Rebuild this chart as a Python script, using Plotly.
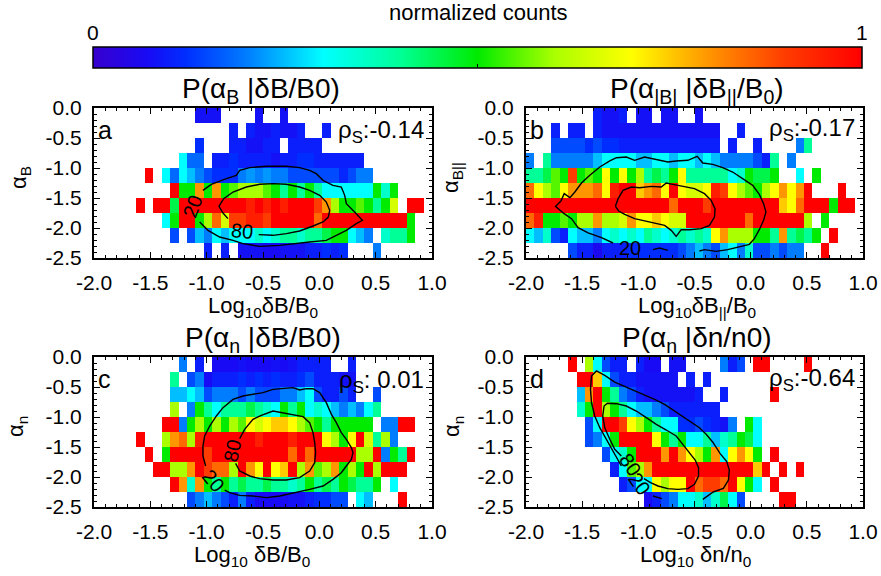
import plotly.graph_objects as go

_ = None
W, H = 881, 576

# ---------------- data: normalized counts (in tenths), 10 alpha rows (0 -> -2.5) x 40 log10 columns (-2 -> 1)
A_ROWS = [
    [_,_,_,_,_,_,_,_,_,_, _,_,0.8,0.8,0.8,_,_,_,_,0.8, _,_,0.8,_,_,_,_,_,_,_, _,_,_,_,_,_,_,_,_,_],
    [_,_,_,_,_,_,_,_,_,_, _,_,_,_,_,_,1,_,1,0.8, 0.8,1,0.8,0.8,1,_,_,1,_,_, _,_,_,_,_,_,_,_,_,_],
    [_,_,_,_,_,_,_,_,_,_, _,_,1.2,_,_,_,1,1,0.8,0.8, 1,1,_,1,1,1,1,_,_,_, _,_,_,_,_,_,_,_,_,_],
    [_,_,_,_,_,_,_,_,_,_, 3,1.8,1.8,_,1,1,1.2,1,1,1, 1,0.8,1,1,1.2,1.2,1,1,1,1, 1,1,_,_,_,_,_,_,_,_],
    [_,_,_,_,_,_,10,_,3,1.8, 3,2.5,2,1.5,1.2,1.2,1.2,2,2.2,2, 2.2,2,2,1.5,1.5,1.5,1.5,1.5,1.5,1.1, 1.5,2,2,_,_,_,_,_,_,_],
    [_,_,_,_,_,_,_,_,_,10, 5,5,8,5,8,5,5.5,6,6,6, 5.5,5,4,5,4,5,4,3,3,3, 3,3,3,5,3.5,5,_,_,_,_],
    [_,_,_,_,_,10,_,10,10,4.5, 10,10,10,10,10,10,10,10,9.5,10, 9.5,10,9.5,10,10,10,9,8,6,5, 5,5.5,5,4,5,6.5,_,10,10,_],
    [_,_,_,_,_,_,_,_,3,5, 10,10,5,6,8.5,6.5,9,9,9.5,9.5, 9,10,10,10,10,10,8.5,10,10,10, 10,10,10,10,10,10,10,5,_,_],
    [_,_,_,_,_,_,_,_,_,1.5, _,1.5,2.5,2,3,2.5,3,3,3,3.5, 3,3.5,4,4,3.5,4,4,4.5,5,5, 3,2.5,2,_,3.5,4,4,5,_,_],
    [_,_,_,_,_,_,_,_,_,_, _,_,_,1,_,1,_,0.8,0.8,0.8, 0.7,0.7,0.8,0.8,0.8,1,1,1.2,1,1.2, _,_,_,2,_,_,_,_,_,_],
]
B_ROWS = [
    [_,_,_,_,_,_,_,_,1,0.8, 0.8,1,_,0.8,0.8,_,0.8,0.8,_,_, 0.8,_,_,_,_,_,_,_,_,_, _,_,_,_,_,_,_,_,_,_],
    [_,_,_,1,_,1,1,_,1,0.8, 0.8,0.8,0.8,0.8,0.8,0.8,0.8,0.8,0.8,0.8, 0.8,0.8,0.8,_,_,1,_,_,_,_, _,_,_,_,_,_,_,_,_,_],
    [_,_,_,1.5,1.5,1.5,1.5,1.2,1.5,1.2, 1.2,1,1,1,1,1,1,1,1,1, 1,1,1,_,1,_,_,1,_,_, _,_,2,4,_,_,_,_,_,_],
    [2,_,4,2,2,2,2,2,2.5,3, 3,3,3,2.5,2.5,3,3,2.5,3,3, 2.5,3,2.5,2,2,2,2,1.5,1,4, _,2,_,_,_,_,_,_,_,_],
    [4,4,4.5,5.5,5,9,5,5.5,5,7, 5,7,5,6,4,4.5,4,5,7,4, 4,4,4,4,3,3.5,5,4.5,4.5,5, _,_,3,_,5,_,_,_,_,_],
    [8.5,7,6,5.5,7,8,8,8,8.5,7, 9.5,10,10,7.5,8,8.5,7,10,7,6.5, 6.5,7,9.5,9,7,6,5.5,5,6,7, 8,7,8,10,_,_,_,10,_,_],
    [10,10,10,10,10,10,10,10,10,10, 10,10,10,10,10,10,10,8.5,10,10, 10,9,10,10,10,10,10,10,10,10, 7.5,7,8.5,10,10,10,5,10,10,_],
    [8.5,9.5,5,5,5.5,5,6,6,8,6, 6,6.5,8,7,7,7.5,7,6.5,6.5,10, 10,10,10,10,10,10,8.5,10,10,10, 10,10,10,6,_,5,_,_,_,_],
    [3,2.5,3.5,1.5,1,3,2.5,2.5,2,3, 3.5,3,3.5,3,4,3.5,3,3.5,4,3.5, 4,3.5,7,8,6,6,6,5,5,4, 8,4,4.5,4,5,_,10,_,_,_],
    [_,_,_,_,_,1.5,1,1,0.6,1, 1,1,1.2,1.2,1.2,1.2,1.2,1.2,1.5,2, 2.5,2,1.5,2.5,3,2,3.5,1.5,1.5,2, 1.5,2,2,_,_,10,_,_,_,_],
]
C_ROWS = [
    [_,_,_,_,_,_,_,_,_,_, 2,_,1,_,0.7,0.7,0.7,0.8,0.7,0.7, 0.7,0.8,0.7,0.8,1,1,1,1,_,_, 1,_,_,_,_,_,_,_,_,_],
    [_,_,_,_,_,_,_,_,_,4, _,1.5,2,0.7,1,1,1,1.2,1,1.2, 1,1.2,1,1,1.2,1.5,1,1,1,0.8, 0.8,_,_,_,_,_,_,_,_,_],
    [_,_,_,_,_,_,_,_,_,2.5, 2.5,3,2.5,1.5,2,2,2,1.5,2,1.5, 1.5,1.5,2,2,2.5,3,1.5,1,1,1.5, 1,_,_,1.5,_,_,_,_,_,_],
    [_,_,_,_,_,_,_,_,_,6, _,2,5,4,3,4,4,4,4.5,4, 3.5,3,5,4,5,3,3.5,3,2.5,2, 2.5,2,3,4,_,_,_,_,_,_],
    [_,_,_,_,_,_,_,_,10,10, 2,5,6,5,6,5,6,5.5,7,6.5, 7,7.5,7.5,7,6,5.5,5,4,5,5, 5,5,5,_,2,2,10,10,_,_],
    [_,_,_,_,_,10,_,_,6,8, 8.5,6,9.5,10,10,10,10,10,10,9.5, 10,10,10,9.5,10,10,10,7,6,5, 7,10,6.5,4,6,2,_,_,_,_],
    [_,_,_,_,_,_,10,_,5,10, 10,10,10,9,10,10,10,10,10,10, 10,10,10,8.5,10,8.5,10,10,10,10, 10,6,6,10,2,5,4,10,_,_],
    [_,_,_,_,_,_,_,10,10,6, 6,8,10,9,8.5,8.5,6,10,8,7, 10,7,7.5,10,6,8,5.5,6,8,5, 6,5,10,6,10,10,10,_,_,_],
    [_,_,_,_,_,_,_,_,_,10, 8,3.5,8,5,4,5,4,4.5,4,4, 4.5,4,4,3.5,4,5,4,4.5,4,5, 4.5,4,4,5,_,3,_,_,_,_],
    [_,_,_,_,_,_,_,_,_,_, _,1.5,2,2.5,2,1.5,1,2,1,0.7, 0.7,0.7,0.7,0.8,0.8,1,1.2,1.2,1.5,1.5, _,3,2.5,_,_,_,10,_,_,_],
]
D_ROWS = [
    [_,_,_,_,_,10,_,6,3,1.5, 1,1,_,1,0.7,0.7,_,0.8,0.8,_, _,_,_,2,1,1.5,_,10,10,_, _,_,_,10,_,_,_,_,_,_],
    [_,_,_,_,_,_,10,10,7.5,3, 1.5,1,1,0.8,0.8,0.8,0.8,0.8,_,1, _,1,_,_,_,_,_,_,_,_, _,_,_,_,_,_,_,_,_,_],
    [_,_,_,_,_,_,2.5,8,10,5, 4,2,1.5,1,0.8,0.8,0.8,0.8,0.8,0.8, 1,_,_,1,_,_,_,_,_,10, _,_,_,_,_,_,_,_,_,_],
    [_,_,_,_,_,_,3.5,5,10,6, 5,4,3,2.5,2.5,2,1.5,1,1,1, 1,1,1,_,_,_,_,_,_,_, _,_,_,_,_,_,_,_,_,_],
    [_,_,_,_,_,_,_,1.5,3,10, 10,9,7,6,5,4,3,3,1.2,1.2, 1.5,1.2,1,0.8,2,_,5,3,_,_, _,_,_,_,_,_,_,_,_,_],
    [_,_,_,_,_,_,_,1.5,2,3, 5,10,10,10,10,7,5,4,5,3, 3,4,2.5,3.5,4,5,4.5,3,_,_, _,_,_,_,_,_,_,_,_,_],
    [_,_,_,_,_,_,_,_,_,1.5, 3,3.5,5,10,10,10,8,10,8,7, 6,5,8,3,7,8,7,5,_,10, _,_,_,_,_,_,_,_,_,_],
    [_,_,_,_,_,_,_,_,_,_, 1,3,5.5,6,8,10,10,10,10,10, 10,10,10,10,10,10,10,7.5,10,_, 10,_,10,_,_,_,_,_,_,_],
    [_,_,_,_,_,_,_,_,_,_, _,1,1.5,3,3,7,6,7,7,10, 8.5,9,9,8.5,10,7,5,3,_,10, _,_,_,_,_,_,_,_,_,_],
    [_,_,_,_,_,_,_,_,_,_, _,_,_,_,0.7,1,1.5,2,3,3, 3.5,2.5,3.5,4.5,3,1.5,_,_,_,_, 10,10,_,_,_,_,_,_,_,_],
]

# bin grid
X_START, X_STEP, N_X = -2.0, 0.075, 40
Y_START, Y_STEP, N_Y = 0.0, -0.25, 10

# contour lines (20 / 80 levels); None = gap for labels
A_C20 = [(-1.033,-1.372),(-0.959,-1.272),(-0.825,-1.178),(-0.737,-1.122),(-0.707,-1.039),(-0.618,-0.994),
         (-0.470,-0.972),(-0.293,-0.972),(-0.175,-0.994),(-0.086,-1.039),(-0.027,-1.094),(0.033,-1.206),
         (0.121,-1.289),(0.195,-1.317),(0.225,-1.456),(0.240,-1.594),(0.328,-1.761),(0.382,-1.872),
         (0.328,-1.928),(0.240,-2.039),(0.151,-2.122),(0.062,-2.206),(-0.086,-2.233),(-0.234,-2.261),
         (-0.352,-2.289),(-0.530,-2.306),(-0.678,-2.261),(-0.766,-2.206),(-0.885,-2.150),(-0.988,-2.039),
         (-1.062,-1.900)]
A_C80 = [(-0.811,-1.844),(-0.855,-1.750),(-0.891,-1.639),(-0.849,-1.511),(-0.766,-1.400),(-0.648,-1.317),
         (-0.530,-1.272),(-0.411,-1.261),(-0.293,-1.272),(-0.175,-1.317),(-0.086,-1.372),(0.003,-1.456),
         (0.062,-1.567),(0.092,-1.706),(0.080,-1.817),(0.033,-1.900),(-0.056,-1.967),(-0.175,-2.050),
         (-0.293,-2.094),(-0.411,-2.122),(-0.538,-2.111)]
B_C20 = [(-1.225,-2.250),(-1.328,-2.161),(-1.447,-2.083),(-1.536,-1.994),(-1.595,-1.844),(-1.660,-1.761),
         (-1.737,-1.639),(-1.689,-1.550),(-1.660,-1.428),(-1.609,-1.494),(-1.565,-1.400),(-1.506,-1.250),
         (-1.432,-1.122),(-1.343,-0.983),(-1.254,-0.883),(-1.195,-0.828),(-1.107,-0.817),(-1.033,-0.872),
         (-0.944,-0.817),(-0.825,-0.861),(-0.737,-0.900),(-0.663,-0.883),(-0.559,-0.872),(-0.476,-0.806),
         (-0.426,-0.917),(-0.337,-0.939),(-0.249,-0.994),(-0.160,-1.067),(-0.071,-1.178),(0.018,-1.289),
         (0.077,-1.439),(0.115,-1.594),(0.136,-1.733),(0.115,-1.872),(0.077,-2.028),(0.033,-2.178),
         (-0.012,-2.272),(-0.115,-2.317),(-0.204,-2.361),(-0.308,-2.389),(-0.411,-2.361),(-0.456,-2.383),
         None,(-0.737,-2.372),(-0.811,-2.333),(-0.870,-2.361)]
B_C80 = [(-1.204,-1.639),(-1.180,-1.511),(-1.136,-1.372),(-1.062,-1.317),(-0.988,-1.328),(-0.885,-1.306),
         (-0.796,-1.317),(-0.751,-1.250),(-0.692,-1.272),(-0.589,-1.306),(-0.500,-1.344),(-0.411,-1.428),
         (-0.352,-1.539),(-0.317,-1.678),(-0.322,-1.817),(-0.367,-1.956),(-0.441,-2.011),(-0.544,-2.028),
         (-0.618,-2.028),(-0.663,-2.139),(-0.707,-2.039),(-0.766,-1.956),(-0.855,-1.917),(-0.944,-1.883),
         (-1.033,-1.844),(-1.121,-1.772),(-1.175,-1.717),(-1.204,-1.639)]
C_C20 = [(-1.009,-1.817),(-1.033,-1.650),(-1.033,-1.483),(-1.018,-1.317),(-0.973,-1.150),(-0.914,-0.983),
         (-0.855,-0.844),(-0.766,-0.706),(-0.678,-0.650),(-0.589,-0.622),(-0.500,-0.594),(-0.411,-0.539),
         (-0.322,-0.528),(-0.234,-0.511),(-0.175,-0.550),(-0.115,-0.528),(-0.056,-0.528),(0.003,-0.594),
         (0.062,-0.761),(0.107,-0.956),(0.151,-1.094),(0.195,-1.261),(0.240,-1.372),(0.284,-1.511),
         (0.299,-1.594),(0.284,-1.706),(0.240,-1.817),(0.195,-1.928),(0.121,-2.039),(0.033,-2.150),
         (-0.086,-2.206),(-0.234,-2.261),(-0.352,-2.317),(-0.470,-2.344),(-0.589,-2.317),(-0.707,-2.306),
         (-0.796,-2.261),(-0.840,-2.217)]
C_C80 = [(-0.707,-1.361),(-0.663,-1.206),(-0.589,-1.039),(-0.515,-0.972),(-0.411,-0.900),(-0.337,-0.928),
         (-0.234,-0.956),(-0.145,-0.994),(-0.086,-1.094),(-0.056,-1.261),(-0.041,-1.428),(-0.033,-1.594),
         (-0.041,-1.761),(-0.086,-1.900),(-0.175,-2.011),(-0.293,-2.050),(-0.411,-2.050),(-0.530,-2.028),
         (-0.618,-1.983),(-0.707,-1.900),(-0.743,-1.772)]
D_C20 = [(-1.151,-1.817),(-1.225,-1.567),(-1.284,-1.372),(-1.343,-1.178),(-1.388,-0.983),(-1.417,-0.761),
         (-1.426,-0.539),(-1.417,-0.317),(-1.373,-0.233),(-1.299,-0.306),(-1.210,-0.417),(-1.092,-0.511),
         (-0.973,-0.606),(-0.855,-0.706),(-0.766,-0.789),(-0.678,-0.900),(-0.589,-1.011),(-0.515,-1.094),
         (-0.456,-1.178),(-0.396,-1.289),(-0.337,-1.420),(-0.273,-1.606),(-0.213,-1.744),(-0.190,-1.883),
         (-0.198,-2.050),(-0.243,-2.189),(-0.333,-2.250),(-0.426,-2.372),
         None,(-0.870,-2.317),(-0.790,-2.361)]
D_C80 = [(-1.151,-1.650),(-1.210,-1.539),(-1.254,-1.372),(-1.299,-1.178),(-1.317,-0.983),(-1.305,-0.817),
         (-1.275,-0.772),(-1.195,-0.778),(-1.107,-0.817),(-1.018,-0.900),(-0.929,-1.011),(-0.840,-1.122),
         (-0.751,-1.217),(-0.663,-1.317),(-0.604,-1.456),(-0.544,-1.606),(-0.494,-1.717),(-0.464,-1.844),
         (-0.464,-1.983),(-0.500,-2.122),(-0.559,-2.194),(-0.648,-2.206),(-0.737,-2.194),(-0.825,-2.150),
         (-0.891,-2.094),(-0.950,-2.028)]

# contour labels: (text, x, y, angle)
A_LABELS = [("20", -1.12, -1.64, -70), ("80", -0.69, -2.05, 5)]
B_LABELS = [("20", -1.07, -2.34, 0)]
C_LABELS = [("20", -0.94, -2.07, 50), ("80", -0.77, -1.57, -78)]
D_LABELS = [("80", -1.07, -1.80, 55), ("20", -0.99, -2.12, 55)]

TITLES = ["P(α<sub>B</sub> |δB/B0)", "P(α<sub>|B|</sub> |δB<sub>||</sub>/B<sub>0</sub>)",
          "P(α<sub>n</sub> |δB/B0)", "P(α<sub>n</sub> |δn/n0)"]
XLABELS = ["Log<sub>10</sub>δB/B<sub>0</sub>", "Log<sub>10</sub>δB<sub>||</sub>/B<sub>0</sub>",
           "Log<sub>10</sub> δB/B<sub>0</sub>", "Log<sub>10</sub> δn/n<sub>0</sub>"]
YLABELS = ["α<sub>B</sub>", "α<sub>B||</sub>", "α<sub>n</sub>", "α<sub>n</sub>"]
LETTERS = ["a", "b", "c", "d"]
RHO = ["ρ<sub>S</sub>:-0.14", "ρ<sub>S</sub>:-0.17", "ρ<sub>S</sub>: 0.01", "ρ<sub>S</sub>:-0.64"]
X_TICKS = [-2.0, -1.5, -1.0, -0.5, 0.0, 0.5, 1.0]
Y_TICKS = [0.0, -0.5, -1.0, -1.5, -2.0, -2.5]

# ---------------- layout geometry (pixels)
PANELS = [  # left, right, top, bottom
    (94, 432, 108, 258), (526, 863, 108, 258),
    (94, 432, 357, 507), (526, 863, 357, 507),
]
FONT = "Liberation Sans, Arial, sans-serif"

COLORSCALE = [
    [0.0, "rgb(55,0,205)"], [0.07, "rgb(25,10,245)"], [0.12, "rgb(0,45,255)"],
    [0.2, "rgb(0,125,255)"], [0.3, "rgb(0,255,255)"], [0.4, "rgb(0,255,150)"],
    [0.5, "rgb(0,235,0)"], [0.6, "rgb(170,255,0)"], [0.7, "rgb(255,255,0)"],
    [0.8, "rgb(255,150,0)"], [0.9, "rgb(255,60,0)"], [1.0, "rgb(255,0,0)"],
]

def px(x):
    return x / W

def py(y):
    return 1 - y / H

def note(text, x, y, size, xanchor="center", angle=0):
    return dict(text=text, x=px(x), y=py(y), xref="paper", yref="paper", xanchor=xanchor,
                yanchor="middle", showarrow=False, textangle=angle,
                font=dict(size=size, color="black", family=FONT))

xc = [X_START + X_STEP * (i + 0.5) for i in range(N_X)]
yc = [Y_START + Y_STEP * (j + 0.5) for j in range(N_Y)]

fig = go.Figure()
ALL_ROWS = [A_ROWS, B_ROWS, C_ROWS, D_ROWS]
ALL_CONT = [[A_C20, A_C80], [B_C20, B_C80], [C_C20, C_C80], [D_C20, D_C80]]
ALL_LAB = [A_LABELS, B_LABELS, C_LABELS, D_LABELS]

annotations = []
for k in range(4):
    sfx = "" if k == 0 else str(k + 1)
    xa, ya = "x" + sfx, "y" + sfx
    z = [[(v / 10 if v is not None else None) for v in row] for row in ALL_ROWS[k]]
    fig.add_trace(go.Heatmap(x=xc, y=yc, z=z, coloraxis="coloraxis", xaxis=xa, yaxis=ya,
                             hoverinfo="skip", xgap=0, ygap=0))
    for cont in ALL_CONT[k]:
        cx = [p[0] if p is not None else None for p in cont]
        cy = [p[1] if p is not None else None for p in cont]
        fig.add_trace(go.Scatter(x=cx, y=cy, mode="lines", line=dict(color="black", width=1.4),
                                 xaxis=xa, yaxis=ya, showlegend=False, hoverinfo="skip",
                                 connectgaps=False))
    for (t, lx, ly, ang) in ALL_LAB[k]:
        annotations.append(dict(text=t, x=lx, y=ly, xref=xa, yref=ya, showarrow=False,
                                xanchor="center", yanchor="middle",
                                textangle=ang, font=dict(size=20, color="black", family=FONT)))
    l, r, t, b = PANELS[k]
    common = dict(showline=True, linewidth=2, linecolor="black", mirror="allticks",
                  ticks="inside", ticklen=6, tickwidth=1.2, tickcolor="black",
                  showgrid=False, zeroline=False, automargin=False,
                  tickfont=dict(size=21, color="black", family=FONT))
    fig.layout["xaxis" + sfx] = dict(domain=[px(l), px(r)], range=[-2, 1], anchor=ya,
                                     tickvals=X_TICKS, ticktext=[f"{v:.1f}" for v in X_TICKS],
                                     minor=dict(ticks="inside", ticklen=3, dtick=0.1, tick0=0,
                                                tickcolor="black", showgrid=False),
                                     ticklabelstandoff=5, **common)
    fig.layout["yaxis" + sfx] = dict(domain=[py(b), py(t)], range=[-2.5, 0], anchor=xa,
                                     tickvals=Y_TICKS, ticktext=[f"{v:.1f}" for v in Y_TICKS],
                                     minor=dict(ticks="inside", ticklen=3, dtick=0.1, tick0=0,
                                                tickcolor="black", showgrid=False),
                                     ticklabelstandoff=6, **common)
    annotations.append(note(TITLES[k], [261, 697, 263, 697][k], t - 18, 28))
    annotations.append(note(XLABELS[k], [263, 697, 252, 695][k], b + 49, 22))
    annotations.append(note(YLABELS[k], [20, 452, 17, 453][k], (t + b) / 2 - 5, 22, angle=-90))
    annotations.append(note(LETTERS[k], l + 2, t + 22, 25, xanchor="left"))
    annotations.append(note(RHO[k], r - 6, t + [24, 21, 24, 22][k], 24, xanchor="right"))

# colorbar labels
annotations.append(note("normalized counts", 478, 12, 22))
annotations.append(note("0", 93, 32, 21))
annotations.append(note("1", 862, 32, 21))

fig.update_layout(
    width=W, height=H, margin=dict(l=0, r=0, t=0, b=0, pad=0, autoexpand=False),
    paper_bgcolor="white", plot_bgcolor="white", showlegend=False,
    font=dict(family=FONT, color="black"),
    coloraxis=dict(cmin=0, cmax=1, colorscale=COLORSCALE,
                   colorbar=dict(orientation="h", x=px(477.5), xanchor="center",
                                 y=py(47), yanchor="top", len=(862 - 93) / W, lenmode="fraction",
                                 thickness=21, thicknessmode="pixels", outlinewidth=1.5,
                                 outlinecolor="black", showticklabels=False, ticks="inside",
                                 tickvals=[0.5], ticklen=4, tickcolor="black",
                                 xpad=0, ypad=0)),
    annotations=annotations,
)

fig.write_html("out.html")
